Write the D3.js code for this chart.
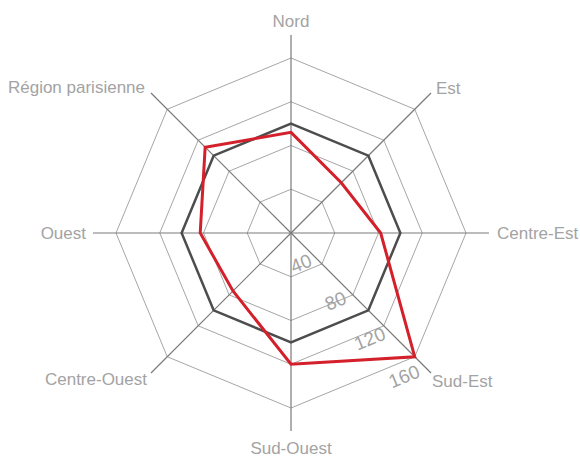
<!DOCTYPE html>
<html>
<head>
<meta charset="utf-8">
<script src="https://cdn.jsdelivr.net/npm/d3@7"></script>
<style>
  body { margin: 0; background: #fff; }
  text { font-family: "Liberation Sans", Arial, sans-serif; }
</style>
</head>
<body>
<script>
"use strict";
// axes, clockwise from the top
const regions = ["Nord", "Est", "Centre-Est", "Sud-Est", "Sud-Ouest", "Centre-Ouest", "Ouest", "Région parisienne"]
// index base (dark octagon) and the region series (red)
const baseValues = [100, 100, 100, 100, 100, 100, 100, 100]
const regionValues = [92, 65, 82, 160, 120, 75, 83, 111]
// grid levels and their labels
const levels = [40, 80, 120, 160]

const measurements = { width: 580, height: 461, cx: 291, cy: 233, radius: 175, axisLength: 198 }

const svg = d3.select("body").append("svg")
    .attr("width", measurements.width)
    .attr("height", measurements.height)

const g = svg.append("g")
    .attr("transform", `translate(${measurements.cx},${measurements.cy})`)

const r = d3.scaleLinear().domain([0, 160]).range([0, measurements.radius])
const angle = d3.scalePoint().domain(regions).range([0, 2 * Math.PI * 7 / 8])

const radial = d3.lineRadial()
    .angle(d => angle(d.region))
    .radius(d => r(d.value))
    .curve(d3.curveLinearClosed)

// grid octagons
g.selectAll(".ring")
    .data(levels)
    .enter()
    .append("path")
    .attr("d", lv => radial(regions.map(region => ({ region, value: lv }))))
    .attr("fill", "none")
    .attr("stroke", "#a6a6a6")
    .attr("stroke-width", 1)

// axes
function point(region, rad) {
    const a = angle(region) - Math.PI / 2
    return [rad * Math.cos(a), rad * Math.sin(a)]
}
g.selectAll(".axis")
    .data(regions)
    .enter()
    .append("line")
    .attr("x1", 0).attr("y1", 0)
    .attr("x2", d => point(d, measurements.axisLength)[0])
    .attr("y2", d => point(d, measurements.axisLength)[1])
    .attr("stroke", "#7a7a7a")
    .attr("stroke-width", 1.2)

// axis labels
const labelStyle = {
    "Nord": { anchor: "middle", baseline: "auto", dx: 0, dy: -8 },
    "Est": { anchor: "start", baseline: "auto", dx: 5, dy: 1 },
    "Centre-Est": { anchor: "start", baseline: "central", dx: 8, dy: 0 },
    "Sud-Est": { anchor: "start", baseline: "hanging", dx: 1, dy: 2 },
    "Sud-Ouest": { anchor: "middle", baseline: "hanging", dx: 0, dy: 11 },
    "Centre-Ouest": { anchor: "end", baseline: "hanging", dx: -4, dy: 0 },
    "Ouest": { anchor: "end", baseline: "central", dx: -7, dy: 0 },
    "Région parisienne": { anchor: "end", baseline: "auto", dx: -6, dy: 0 }
}
g.selectAll(".label")
    .data(regions)
    .enter()
    .append("text")
    .attr("x", d => point(d, measurements.axisLength)[0] + labelStyle[d].dx)
    .attr("y", d => point(d, measurements.axisLength)[1] + labelStyle[d].dy)
    .attr("text-anchor", d => labelStyle[d].anchor)
    .attr("dominant-baseline", d => labelStyle[d].baseline)
    .attr("font-size", 17)
    .attr("fill", "#a3a3a3")
    .text(d => d)

// series
g.append("path")
    .attr("d", radial(regions.map((region, i) => ({ region, value: baseValues[i] }))))
    .attr("fill", "none")
    .attr("stroke", "#4d4d4d")
    .attr("stroke-width", 2.5)
    .attr("stroke-linejoin", "miter")

g.append("path")
    .attr("d", radial(regions.map((region, i) => ({ region, value: regionValues[i] }))))
    .attr("fill", "none")
    .attr("stroke", "#d3202b")
    .attr("stroke-width", 3)
    .attr("stroke-linejoin", "miter")

// level labels, tilted like the ring edges between Sud-Est and Sud-Ouest
const tilt = -22.5
const tiltRad = tilt * Math.PI / 180
g.selectAll(".level")
    .data(levels)
    .enter()
    .append("text")
    .attr("transform", lv => {
        const u = 23.7 + 0.395 * (r(lv) - 109.5)
        const v = 104 + 1.096 * (r(lv) - 109.5)
        const x = u * Math.cos(tiltRad) - v * Math.sin(tiltRad)
        const y = u * Math.sin(tiltRad) + v * Math.cos(tiltRad)
        return `translate(${x},${y}) rotate(${tilt})`
    })
    .attr("text-anchor", "middle")
    .attr("dominant-baseline", "central")
    .attr("font-size", 19)
    .attr("fill", "#a3a3a3")
    .text(d => d)
</script>
</body>
</html>
